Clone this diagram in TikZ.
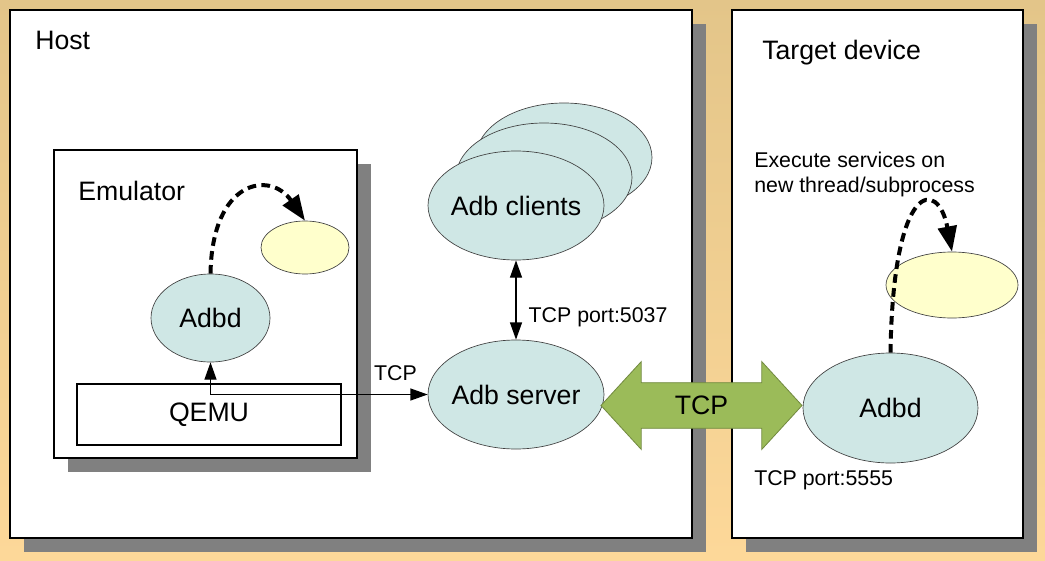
\documentclass[tikz,border=0pt]{standalone}
\usepackage{fontspec}
\setmainfont{Liberation Sans}
\usetikzlibrary{arrows.meta, positioning, shapes.geometric, shapes.arrows, shadows}
\definecolor{desktop}{RGB}{227,197,137}
\definecolor{deskbottom}{RGB}{253,216,153}
\definecolor{procteal}{RGB}{207,231,229}
\definecolor{threadyellow}{RGB}{255,255,204}
\definecolor{linkgreen}{RGB}{155,187,89}
\definecolor{linkgreendark}{RGB}{113,137,63}
\definecolor{boxshadow}{RGB}{128,128,128}

\begin{document}
\begin{tikzpicture}[x=0.75pt, y=-0.75pt,
  machine/.style={rectangle, draw=black, fill=white, line width=1pt, inner sep=0pt,
                  drop shadow={shadow xshift=10.5pt, shadow yshift=-10.5pt, fill=boxshadow, opacity=1}},
  bigtext/.style={font=\fontsize{20}{24}\selectfont},
  heading/.style={bigtext, inner sep=0pt, anchor=base west},
  lbl/.style={font=\fontsize{16}{18.5}\selectfont, inner sep=0pt},
  proc/.style={ellipse, draw=black!75, line width=0.5pt, fill=procteal, inner sep=0pt},
  thread/.style={ellipse, draw=black!75, line width=0.5pt, fill=threadyellow, inner sep=0pt},
  link/.style={line width=1pt, {Triangle[length=13pt,width=9pt]}-{Triangle[length=13pt,width=9pt]}},
  spawn/.style={line width=3pt, dash pattern=on 6.5pt off 4pt, -{Triangle[length=19pt,width=14pt]}},
  tcplink/.style={double arrow, draw=linkgreendark, fill=linkgreen, line width=0.6pt,
                  inner xsep=0pt, inner ysep=9.75pt,
                  minimum height=150.75pt, minimum width=65.25pt, double arrow head extend=15.75pt,
                  double arrow tip angle=95, bigtext}
]
\shade[top color=desktop, bottom color=deskbottom] (0,0) rectangle (1045,560);
\useasboundingbox (0,0) rectangle (1045,560);

\node[machine, minimum width=511.5pt, minimum height=396pt] (host) at (351,274) {};
\node[machine, minimum width=218.25pt, minimum height=396pt] (target) at (877.5,274) {};
\node[machine, minimum width=227.25pt, minimum height=231pt] (emulator) at (205.5,304) {};
\node[rectangle, draw=black, fill=white, line width=1pt, minimum width=198pt, minimum height=45.75pt,
      bigtext] (qemu) at (209,414.5) {QEMU};

\node[heading] (hostlabel) at (35,49.5) {Host};
\node[heading] (emulabel) at (78,200.5) {Emulator};
\node[heading] (targetlabel) at (762,60) {Target device};

\node[proc, minimum width=89.25pt, minimum height=66pt, label={[bigtext]center:Adbd}] (eadbd) at (210.5,318) {};
\node[thread, minimum width=66pt, minimum height=39.75pt] (ethread) at (305,247.5) {};

\node[proc, minimum width=132pt, minimum height=81.75pt] (client3) at (564,157.5) {};
\node[proc, minimum width=132pt, minimum height=81.75pt] (client2) at (544,177.5) {};
\node[proc, minimum width=132pt, minimum height=81.75pt, label={[bigtext]center:Adb clients}] (clients) at (516,205.5) {};
\node[proc, minimum width=132pt, minimum height=81.75pt, label={[bigtext]center:Adb server}] (server) at (516,394.5) {};

\node[proc, minimum width=131.25pt, minimum height=82.5pt, label={[bigtext]center:Adbd}] (tadbd) at (890.5,408) {};
\node[thread, minimum width=99pt, minimum height=49.5pt] (tthread) at (952,285) {};

\node[tcplink] (tcp) at (701.5,405.5) {TCP};

\draw[link] (clients.south) -- (clients.south |- server.north)
  node[lbl, pos=0.72, right=9pt] {TCP port:5037};
\draw[link] (eadbd.south) |- (server.west)
  node[lbl, pos=0.926, above=9.75pt] {TCP};

\draw[spawn] (eadbd.north) .. controls (212,180) and (270,170) .. (ethread.north);
\draw[spawn] (tadbd.north) .. controls (893,180) and (938,178) .. (tthread.north);

\node[lbl, align=left, anchor=north west] (execnote) at (754,152) {Execute services on\\new thread/subprocess};
\node[lbl, anchor=base west] (port5555) at (754,485) {TCP port:5555};
\end{tikzpicture}
\end{document}
